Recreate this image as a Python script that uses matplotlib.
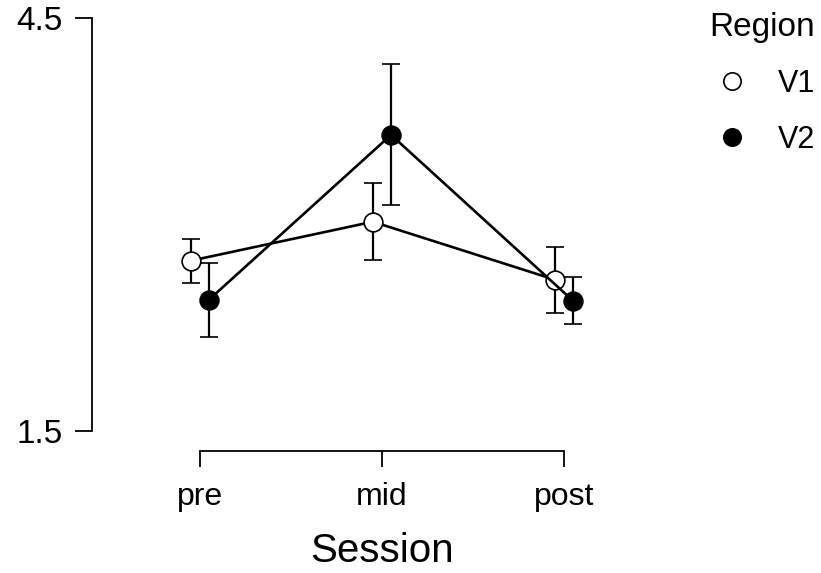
import numpy as np
import matplotlib.pyplot as plt
from matplotlib.lines import Line2D

plt.rcParams['font.family'] = ['Liberation Sans', 'DejaVu Sans']

# Mittelwerte und Fehlerbalken je Region
sessions = ['pre', 'mid', 'post']
v1_mean = [2.737, 3.020, 2.599]
v1_err = [0.160, 0.280, 0.240]
v2_mean = [2.454, 3.651, 2.446]
v2_err = [0.268, 0.512, 0.171]

x = np.arange(len(sessions))
dodge = 0.05

fig = plt.figure(figsize=(8.21, 5.73), dpi=100)
ax = fig.add_axes([92 / 821, 1 - 431 / 573, (620 - 92) / 821, (431 - 18) / 573])

ax.errorbar(x - dodge, v1_mean, yerr=v1_err, color='black', lw=1.9,
            capsize=6.5, capthick=1.6, elinewidth=1.6,
            marker='o', ms=13.5, mfc='white', mec='black', mew=1.2,
            label='V1', zorder=3)
ax.errorbar(x + dodge, v2_mean, yerr=v2_err, color='black', lw=1.9,
            capsize=6.5, capthick=1.6, elinewidth=1.6,
            marker='o', ms=13.5, mfc='black', mec='black', mew=1.2,
            label='V2', zorder=3)

ax.set_ylim(1.5, 4.5)
ax.set_xlim(-0.593, 2.308)
ax.set_yticks([1.5, 4.5])
ax.set_yticklabels(['1.5', '4.5'])
ax.set_xticks(x)
ax.set_xticklabels(sessions)

for s in ['top', 'right']:
    ax.spines[s].set_visible(False)
ax.spines['left'].set_bounds(1.5, 4.5)
ax.spines['bottom'].set_bounds(0, 2)
ax.spines['bottom'].set_position(('outward', 14.5))
ax.spines['left'].set_linewidth(1.3)
ax.spines['bottom'].set_linewidth(1.3)

ax.tick_params(axis='y', length=12, width=1.3, pad=9, labelsize=24)
ax.tick_params(axis='x', length=11.5, width=1.3, pad=11, labelsize=23)
ax.set_xlabel('Session', fontsize=29)
ax.xaxis.set_label_coords((382 - 92) / 528, -0.245)

# Legende ohne Fehlerbalken
handles = [
    Line2D([], [], ls='none', marker='o', ms=12.5, mfc='white', mec='black', mew=1.2),
    Line2D([], [], ls='none', marker='o', ms=12.5, mfc='black', mec='black', mew=1.2),
]
leg = fig.legend(handles, ['V1', 'V2'], title='Region', loc='upper right',
                 bbox_to_anchor=(1.011, 1.0055), frameon=False, fontsize=22,
                 title_fontsize=24, handletextpad=0.5, labelspacing=0.85,
                 borderaxespad=0.1, alignment='right')

fig.savefig('out.png', dpi=100)
